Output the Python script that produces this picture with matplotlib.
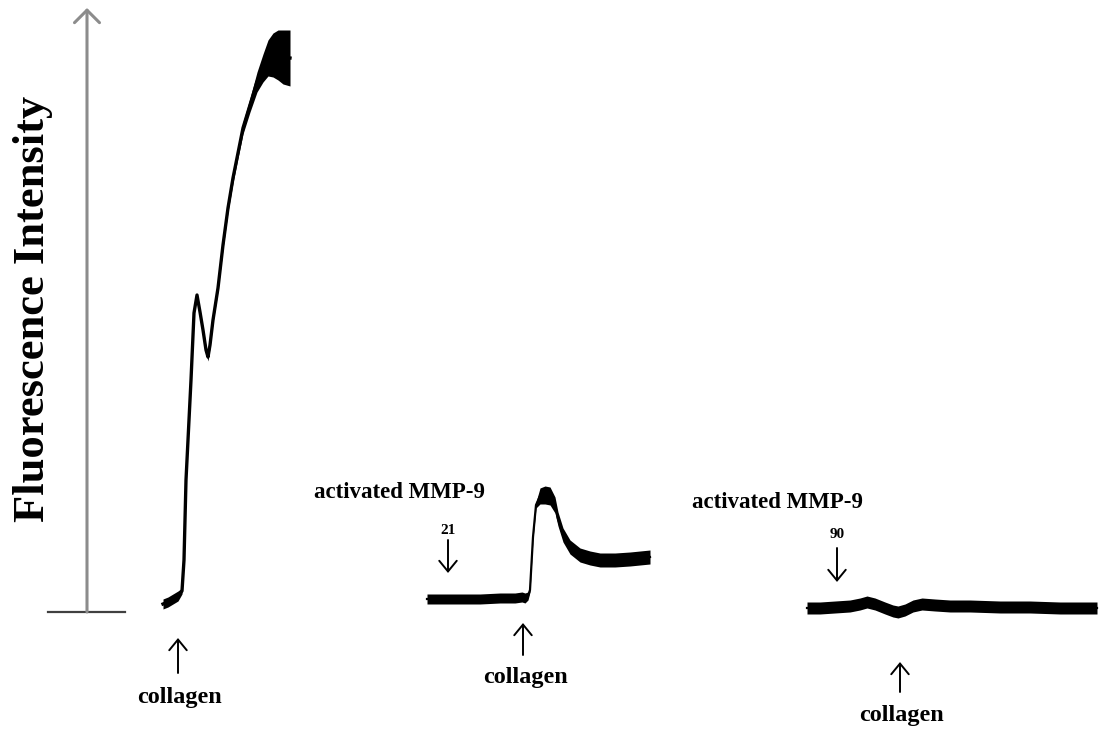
import matplotlib.pyplot as plt
import numpy as np

# fluorescence traces (time in arbitrary units, intensity in arbitrary units)
# each trace: time, mean signal, noise half-width
t_ctrl = [163, 168, 173, 178, 182, 184, 186, 189, 191, 194, 197, 200, 203, 206, 208,
          210, 213, 218, 223, 228, 233, 238, 243, 250, 257, 263, 268, 273, 278, 283, 290]
f_ctrl = [8, 10, 13, 16, 21, 52, 132, 192, 232, 299, 317, 300, 282, 262, 255,
          267, 292, 324, 367, 404, 434, 459, 484, 507, 530, 544, 554, 557, 557, 555, 554]
n_ctrl = [5, 5, 5, 5, 3, 1, 1, 1, 1, 1, 2, 2, 3, 4, 4,
          3, 3, 3, 4, 4, 5, 5, 6, 7, 10, 14, 18, 22, 25, 27, 28]

t_21 = [427, 440, 460, 480, 500, 515, 522, 525, 528, 530, 533, 536, 540, 545, 550,
        555, 558, 563, 570, 580, 590, 600, 615, 630, 640, 650]
f_21 = [13, 13, 13, 13, 14, 14, 15, 14, 16, 22, 75, 107, 116, 117, 116,
        107, 93, 77, 65, 57, 54, 52, 52, 53, 54, 55]
n_21 = [5, 5, 5, 5, 5, 5, 5, 5, 4, 2, 2, 3, 8, 9, 9,
        8, 7, 7, 7, 7, 7, 7, 7, 7, 7, 7]

t_90 = [807, 820, 835, 850, 860, 867, 875, 885, 893, 898, 905, 913, 922, 935, 950,
        970, 1000, 1030, 1060, 1097]
f_90 = [4, 4, 5, 6, 8, 10, 8, 4, 1, 0, 2, 6, 8, 7, 6,
        6, 5, 5, 4, 4]
n_90 = [6] * 20

serif = ['Liberation Serif', 'DejaVu Serif']

fig = plt.figure(figsize=(10.99, 7.31), dpi=100)
ax = fig.add_axes([0, 0, 1, 1])
ax.set_xlim(0, 1099)
ax.set_ylim(-119, 612)
ax.axis('off')

for t, f, n, lw in [(t_ctrl, f_ctrl, n_ctrl, 2.4), (t_21, f_21, n_21, 1.6),
                    (t_90, f_90, n_90, 1.6)]:
    t = np.array(t); f = np.array(f); n = np.array(n)
    ax.fill_between(t, f - n, f + n, color='black', lw=0)
    ax.plot(t, f, color='black', lw=lw)

# intensity axis
ax.annotate('', xy=(87, 604), xytext=(87, 0),
            arrowprops=dict(arrowstyle='->,head_length=0.45,head_width=0.45',
                            color='#8c8c8c', lw=2.2, mutation_scale=20,
                            shrinkA=0, shrinkB=0))
ax.plot([48, 125], [0, 0], color='#404040', lw=1.6)
ax.text(33, 303, 'Fluorescence Intensity', rotation=90, ha='center', va='center',
        fontsize=32, fontweight='bold', family=serif)

arrow_kw = dict(arrowstyle='->,head_length=0.55,head_width=0.45', color='black',
                lw=1.4, mutation_scale=14, shrinkA=0, shrinkB=0)

# collagen additions (up arrows)
for x, y0, y1, ty in [(178, -61, -26, -85), (523, -43, -11, -66), (900, -80, -50, -103)]:
    ax.annotate('', xy=(x, y1), xytext=(x, y0), arrowprops=arrow_kw)
    ax.text(x + 2, ty, 'collagen', ha='center', va='center', fontsize=17.5,
            fontweight='bold', family=serif)

# activated MMP-9 additions (down arrows)
for x, y0, y1, lx, ly, num, ny in [(448, 72, 39, 400, 119, '21', 82),
                                   (837, 64, 30, 777, 109, '90', 77)]:
    ax.annotate('', xy=(x, y1), xytext=(x, y0), arrowprops=arrow_kw)
    ax.text(lx, ly, 'activated MMP-9', ha='center', va='center', fontsize=16.5,
            fontweight='bold', family=serif)
    ax.text(x, ny, num, ha='center', va='center', fontsize=11,
            fontweight='bold', family=serif)

fig.savefig('out.png', dpi=100)
